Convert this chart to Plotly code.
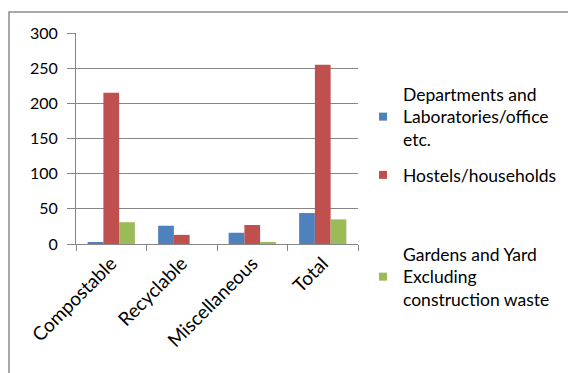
import plotly.graph_objects as go

categories = ["Compostable", "Recyclable", "Miscellaneous", "Total"]
departments = [2, 26, 16, 44]
hostels = [215, 13, 27, 255]
gardens = [31, 0, 3, 35]

series_names = [
    "Departments and<br>Laboratories/office<br>etc.",
    "Hostels/households",
    "Gardens and Yard<br>Excluding<br>construction waste",
]
series_values = [departments, hostels, gardens]
series_colors = ["#4F81BD", "#C0504D", "#9BBB59"]
legend_ids = ["legend", "legend2", "legend3"]

fig = go.Figure()
for name, vals, col, lg in zip(series_names, series_values, series_colors, legend_ids):
    fig.add_trace(go.Bar(x=categories, y=vals, name=name, marker_color=col,
                         marker_line_width=0, showlegend=False, legendgroup=name))
    # legend key (small square swatch like the original)
    fig.add_trace(go.Scatter(x=[None], y=[None], mode="markers", name=name,
                             marker=dict(symbol="square", size=8, color=col, line_width=0),
                             legend=lg, legendgroup=name, hoverinfo="skip"))

W, H = 568, 373
L, R, T, B = 76, 210, 33, 129
pw = W - L - R
ph = H - T - B

def px2x(px):
    return (px - L) / pw

def py2y(py):
    return (H - B - py) / ph

FONT = "Lato, Calibri, sans-serif"
legend_font = dict(family=FONT, size=17.5, color="#000")
common_leg = dict(xanchor="left", yanchor="top", bgcolor="rgba(0,0,0,0)",
                  font=legend_font, itemclick=False, tracegroupgap=0)

fig.update_layout(
    width=W, height=H,
    margin=dict(l=L, r=R, t=T, b=B, autoexpand=False),
    paper_bgcolor="white", plot_bgcolor="white",
    barmode="group", bargap=0.33, bargroupgap=0,
    showlegend=True,
    legend=dict(x=px2x(363), y=py2y(76), **common_leg),
    legend2=dict(x=px2x(363), y=py2y(157), **common_leg),
    legend3=dict(x=px2x(363), y=py2y(236), **common_leg),
    font=dict(family=FONT, color="#000"),
    xaxis=dict(
        showline=True, linecolor="#868686", linewidth=1,
        ticks="outside", tickson="boundaries", ticklen=6, tickcolor="#868686",
        tickangle=-45, tickfont=dict(size=19, family=FONT, color="#000"),
        showgrid=False,
    ),
    yaxis=dict(
        range=[0, 300], dtick=50, tick0=0,
        showline=True, linecolor="#868686", linewidth=1,
        ticks="outside", ticklen=8, tickcolor="#868686",
        showgrid=True, gridcolor="#868686", gridwidth=1,
        zeroline=False, ticklabelstandoff=6,
        tickfont=dict(size=16, family=FONT, color="#000"),
    ),
    shapes=[dict(type="rect", xref="paper", yref="paper",
                 x0=px2x(9), x1=px2x(700), y0=py2y(500), y1=py2y(12),
                 line=dict(color="#8c8c8c", width=1.5), fillcolor="rgba(0,0,0,0)",
                 layer="below")],
)

fig.write_html("out.html")
